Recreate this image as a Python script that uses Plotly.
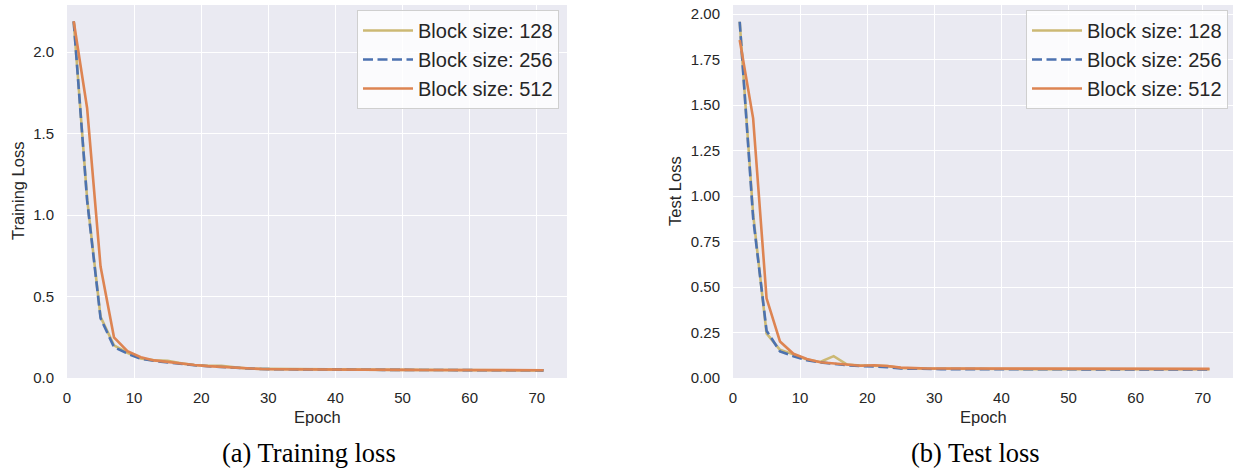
import plotly.graph_objects as go

# ---------------- data ----------------
epochs = [1, 3, 5, 7, 9, 11, 13, 15, 17, 19, 21, 23, 25, 27, 29, 31, 33, 35,
          37, 39, 41, 43, 45, 47, 49, 51, 53, 55, 57, 59, 61, 63, 65, 67, 69, 71]
series_names = ["Block size: 128", "Block size: 256", "Block size: 512"]

train_128 = [2.19, 1.10, 0.375, 0.200, 0.155, 0.120, 0.108, 0.105, 0.090, 0.080,
             0.075, 0.075, 0.065, 0.058, 0.056, 0.055, 0.054, 0.054, 0.053, 0.053,
             0.052, 0.052, 0.051, 0.051, 0.050, 0.050, 0.050, 0.049, 0.049, 0.049,
             0.048, 0.048, 0.048, 0.048, 0.047, 0.047]
train_256 = [2.19, 1.09, 0.367, 0.190, 0.150, 0.118, 0.105, 0.095, 0.085, 0.078,
             0.072, 0.068, 0.062, 0.057, 0.055, 0.054, 0.053, 0.053, 0.052, 0.052,
             0.051, 0.051, 0.050, 0.050, 0.050, 0.049, 0.049, 0.049, 0.048, 0.048,
             0.048, 0.048, 0.047, 0.047, 0.047, 0.047]
train_512 = [2.19, 1.656, 0.684, 0.250, 0.165, 0.128, 0.108, 0.098, 0.088, 0.080,
             0.073, 0.068, 0.062, 0.057, 0.055, 0.054, 0.054, 0.053, 0.053, 0.052,
             0.052, 0.051, 0.051, 0.050, 0.050, 0.050, 0.049, 0.049, 0.049, 0.048,
             0.048, 0.048, 0.048, 0.048, 0.048, 0.048]

test_128 = [1.958, 0.90, 0.245, 0.155, 0.130, 0.102, 0.088, 0.120, 0.074, 0.068,
            0.068, 0.065, 0.055, 0.052, 0.051, 0.051, 0.050, 0.050, 0.050, 0.050,
            0.049, 0.049, 0.049, 0.049, 0.049, 0.049, 0.048, 0.048, 0.048, 0.048,
            0.048, 0.048, 0.048, 0.048, 0.048, 0.048]
test_256 = [1.958, 0.88, 0.260, 0.146, 0.120, 0.098, 0.086, 0.076, 0.070, 0.066,
            0.064, 0.060, 0.052, 0.050, 0.049, 0.049, 0.049, 0.048, 0.048, 0.048,
            0.048, 0.048, 0.048, 0.048, 0.047, 0.047, 0.047, 0.047, 0.047, 0.047,
            0.047, 0.047, 0.047, 0.047, 0.047, 0.047]
test_512 = [1.858, 1.427, 0.438, 0.201, 0.133, 0.104, 0.087, 0.079, 0.072, 0.067,
            0.070, 0.066, 0.057, 0.053, 0.052, 0.052, 0.052, 0.052, 0.051, 0.051,
            0.051, 0.051, 0.051, 0.051, 0.051, 0.051, 0.050, 0.050, 0.050, 0.050,
            0.050, 0.050, 0.050, 0.050, 0.050, 0.050]

x_ticks = [0, 10, 20, 30, 40, 50, 60, 70]
train_yticks = [0.0, 0.5, 1.0, 1.5, 2.0]
test_yticks = [0.0, 0.25, 0.5, 0.75, 1.0, 1.25, 1.5, 1.75, 2.0]

# ---------------- styling ----------------
W, H = 1238, 472
colors = ["#ccb974", "#4c72b0", "#dd8452"]
dashes = ["solid", "10px,4.5px", "solid"]
BG = "#eaeaf2"
TXT = "#262626"
SANS = "Liberation Sans, Arial, sans-serif"
SERIF = "Liberation Serif, Times New Roman, serif"

def px_x(p):
    return p / W

def px_y(p):
    return 1 - p / H

fig = go.Figure()

for panel, (data, xa, ya, leg) in enumerate([
        ((train_128, train_256, train_512), "x", "y", "legend"),
        ((test_128, test_256, test_512), "x2", "y2", "legend2")]):
    for i, vals in enumerate(data):
        fig.add_trace(go.Scatter(
            x=epochs, y=vals, mode="lines", name=series_names[i],
            xaxis=xa, yaxis=ya, legend=leg,
            line=dict(color=colors[i], width=2.6, dash=dashes[i]),
        ))

axis_common = dict(
    showgrid=True, gridcolor="white", gridwidth=1.4, zeroline=False,
    showline=False, ticks="", tickfont=dict(family=SANS, size=15, color=TXT),
    automargin=False, fixedrange=True,
)

y_top = px_y(5)
y_bot = px_y(378)

fig.update_layout(
    width=W, height=H,
    margin=dict(l=0, r=0, t=0, b=0),
    paper_bgcolor="white", plot_bgcolor=BG,
    showlegend=True,
    xaxis=dict(domain=[px_x(67), px_x(567)], range=[0, 74.5], tickvals=x_ticks,
               anchor="y", ticklabelstandoff=9, **axis_common),
    yaxis=dict(domain=[y_bot, y_top], range=[0, 2.29], tickvals=train_yticks,
               tickformat=".1f", anchor="x", ticklabelstandoff=12, **axis_common),
    xaxis2=dict(domain=[px_x(733), px_x(1233)], range=[0, 74.5], tickvals=x_ticks,
                anchor="y2", ticklabelstandoff=9, **axis_common),
    yaxis2=dict(domain=[y_bot, y_top], range=[0, 2.05], tickvals=test_yticks,
                tickformat=".2f", anchor="x2", ticklabelstandoff=12, **axis_common),
)

legend_common = dict(
    bgcolor="rgba(255,255,255,0.8)", bordercolor="#cfcfcf", borderwidth=1,
    font=dict(family=SANS, size=20, color=TXT),
    xanchor="right", yanchor="top", itemwidth=50,
    tracegroupgap=0,
)
fig.update_layout(
    legend=dict(x=px_x(559), y=px_y(10), **legend_common),
    legend2=dict(x=px_x(1228), y=px_y(10), **legend_common),
)

annotations = [
    dict(text="Epoch", x=px_x(317), y=px_y(417)),
    dict(text="Epoch", x=px_x(983), y=px_y(417)),
    dict(text="Training Loss", x=px_x(18), y=px_y(191), textangle=-90),
    dict(text="Test Loss", x=px_x(675), y=px_y(191), textangle=-90),
]
for a in annotations:
    fig.add_annotation(xref="paper", yref="paper", showarrow=False,
                       xanchor="center", yanchor="middle",
                       font=dict(family=SANS, size=16.5, color=TXT), **a)

for txt, cx in [("(a) Training loss", 309), ("(b) Test loss", 975.5)]:
    fig.add_annotation(text=txt, xref="paper", yref="paper", x=px_x(cx), y=px_y(453),
                       showarrow=False, xanchor="center", yanchor="middle",
                       font=dict(family=SERIF, size=26.5, color="black"))

fig.write_html("out.html")
